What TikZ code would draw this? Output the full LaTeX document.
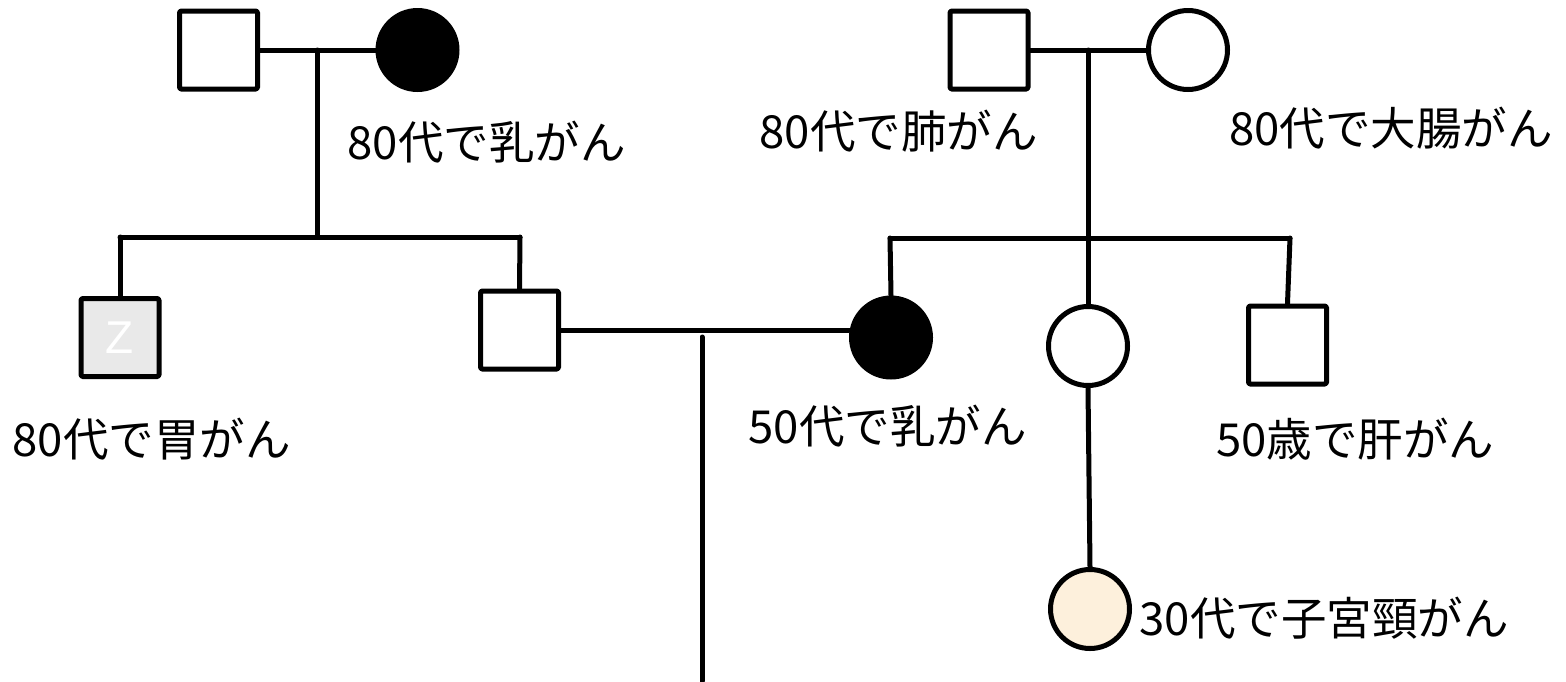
\documentclass[tikz,border=0pt]{standalone}
\usepackage{fontspec}
\newfontfamily\jpfont{Noto Sans CJK JP}
\setsansfont{Liberation Sans}
\definecolor{beige}{HTML}{FDF0DC}
\definecolor{lgrey}{HTML}{E9E9E9}
\begin{document}
\begin{tikzpicture}[x=1pt,y=-1pt,
  line width=5pt, line join=round,
  male/.style={draw, rectangle, minimum size=78pt, inner sep=0pt, rounded corners=1.5pt},
  female/.style={draw, circle, minimum size=79pt, inner sep=0pt},
  affected/.style={fill=black},
  lbl/.style={font=\jpfont\fontsize{45.5}{54}\selectfont, inner sep=0pt, anchor=center},
  conn/.style={line width=5pt, line cap=round}]
\useasboundingbox (0,0) rectangle (1566,681);
% generation I
\node[male] (gf1) at (218.5,50) {};
\node[female, affected] (gm1) at (417.5,50) {};
\node[male] (gf2) at (989,50) {};
\node[female] (gm2) at (1188,50) {};
% generation II
\node[male, fill=lgrey, text=white, font=\sffamily\fontsize{46}{46}\selectfont] (uncle) at (120,337.5) {Z};
\node[male] (father) at (519.5,330) {};
\node[female, affected] (mother) at (891,337.5) {};
\node[female] (aunt) at (1088,346) {};
\node[male] (uncle2) at (1287.5,345) {};
% generation III
\node[female, fill=beige] (cousin) at (1090,609) {};
% labels
\node[lbl] (l1) at (486.5,142) {80代で乳がん};
\node[lbl] (l2) at (898.5,131) {80代で肺がん};
\node[lbl] (l3) at (1391,128) {80代で大腸がん};
\node[lbl] (l4) at (151.5,439) {80代で胃がん};
\node[lbl] (l5) at (887.5,426) {50代で乳がん};
\node[lbl] (l6) at (1355,439) {50歳で肝がん};
\node[lbl] (l7) at (1324,618) {30代で子宮頸がん};
% coordinates
\coordinate (m1) at (317,50);
\coordinate (s1) at (317,237);
\coordinate (s1l) at (120,237);
\coordinate (s1r) at (520,237);
\coordinate (m2) at (1088,50);
\coordinate (s2l) at (890,238);
\coordinate (s2r) at (1290,238);
\coordinate (m3) at (702,337);
\coordinate (child) at (702,681);
% connectors
\draw[conn] (gf1.east) -- (gm1.west);
\draw[conn] (m1) -- (s1);
\draw[conn] (s1l) -- (s1r);
\draw[conn] (s1l) -- (uncle.north);
\draw[conn] (s1r) -- (father.north);
\draw[conn] (father.east) -- (father.east -| mother.west);
\draw[conn] (m3) -- (child);
\draw[conn] (gf2.east) -- (gm2.west);
\draw[conn] (m2) -- (aunt.north);
\draw[conn] (s2l) -- (s2r);
\draw[conn] (s2l) -- (mother.north);
\draw[conn] (s2r) -- (uncle2.north);
\draw[conn] (aunt.south) -- (cousin.north);
\end{tikzpicture}
\end{document}
